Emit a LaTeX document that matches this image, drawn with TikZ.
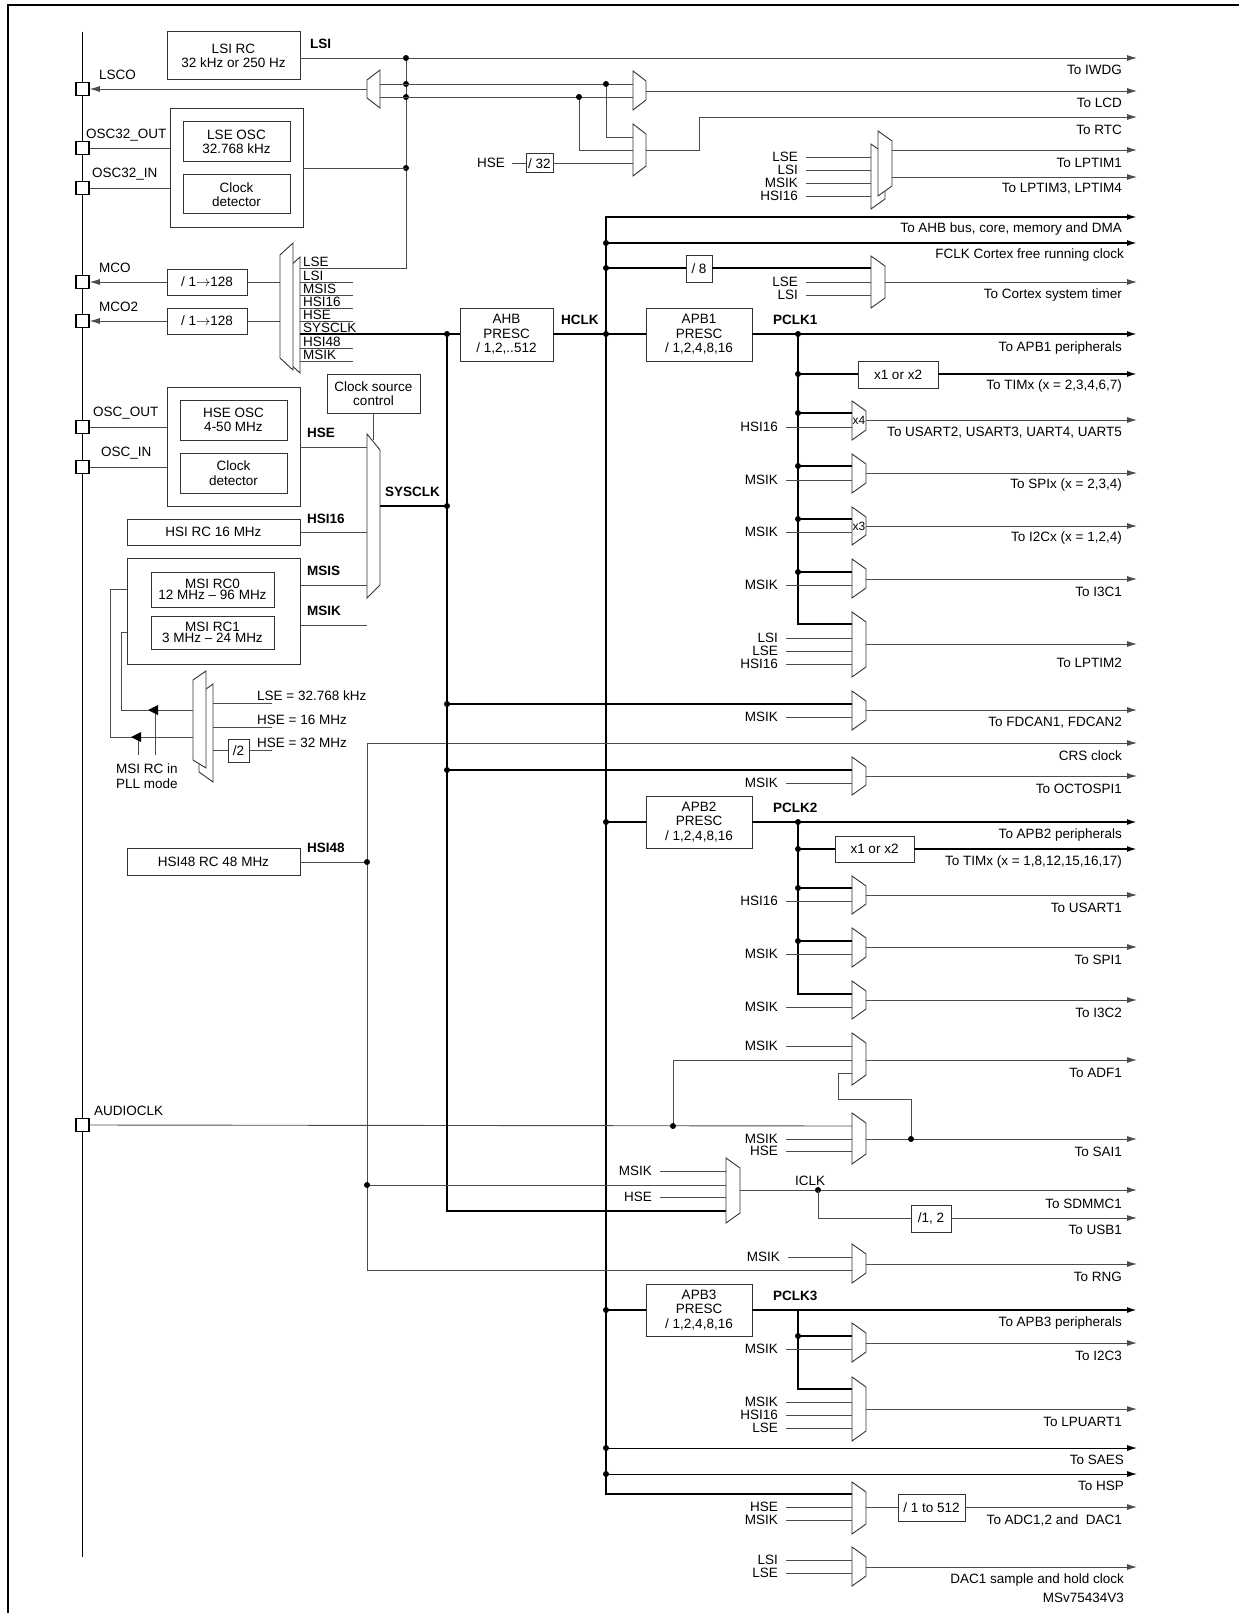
\documentclass[tikz,border=0pt]{standalone}
\usepackage{fontspec}
\setmainfont{Liberation Sans}
\usetikzlibrary{arrows.meta}
\newcommand\fs{\fontsize{13.5}{14.5}\selectfont}
\begin{document}
\begin{tikzpicture}[x=1pt,y=-1pt,
 thn/.style={line width=0.9pt,draw=black!70},
 thk/.style={line width=1.7pt,draw=black},
 arr/.style={-{Latex[length=10pt,width=6pt]}},
 box/.style={draw=black!80,line width=1pt,inner sep=0pt,font=\fs,align=center},
 lbl/.style={font=\fs,inner sep=0pt},
 blbl/.style={font=\fs\bfseries,inner sep=0pt},
 mux/.style={draw=black!80,line width=0.9pt,fill=white},
 dot/.style={circle,fill=black,inner sep=0pt,minimum size=6pt},
 pin/.style={draw=black,line width=1.5pt,fill=white,minimum size=13pt,inner sep=0pt}]
\newcommand\mybx[6]{\node[box,minimum width={(#4-#2)*1pt},minimum height={(#5-#3)*1pt}] (#1) at ({(#2+#4)/2},{(#3+#5)/2}) {#6};}
\newcommand\mymx[2]{\draw[mux] (852,#1) -- (866,{#1+10}) -- (866,{#2-10}) -- (852,#2) -- cycle;}
\newcommand\myin[4]{\draw[thn] (#1,#3) -- (#2,#3); \node[lbl,anchor=east] at ({#1-8},#3) {#4};}
\newcommand\myout[2]{\draw[thn,arr] (866,#1) -- (1137,#1); \node[lbl,anchor=east] at (1122,{#1+12.5}) {#2};}
\newcommand\mydot[2]{\node[dot] at (#1,#2) {};}
\useasboundingbox (0,0) rectangle (1239,1613);
% frame and bus
\draw[line width=1.5pt] (8,1613) -- (8,5) -- (1239,5);
\draw[line width=1.7pt] (82.5,32) -- (82.5,1557);
\node[pin] (lsco) at (82.5,89) {};
\node[pin] (o32o) at (82.5,148) {};
\node[pin] (o32i) at (82.5,188) {};
\node[pin] (mco) at (82.5,282) {};
\node[pin] (mco2) at (82.5,321) {};
\node[pin] (oo) at (82.5,427) {};
\node[pin] (oi) at (82.5,467) {};
\node[pin] (aud) at (82.5,1125) {};
\node[lbl,anchor=west] at (99,75) {LSCO};
\node[lbl,anchor=west] at (86,135) {OSC32\_OUT};
\node[lbl,anchor=west] at (92,174) {OSC32\_IN};
\node[lbl,anchor=west] at (99,268) {MCO};
\node[lbl,anchor=west] at (99,307) {MCO2};
\node[lbl,anchor=west] at (93,413) {OSC\_OUT};
\node[lbl,anchor=west] at (101,453) {OSC\_IN};
\node[lbl,anchor=west] at (94,1111) {AUDIOCLK};
% LSI
\mybx{lsi}{167}{32}{300}{80}{LSI RC\\32 kHz or 250 Hz}
\node[blbl,anchor=west] at (310,44) {LSI};
\draw[thn,arr] (300,58) -- (1137,58);
\node[lbl,anchor=east] at (1122,70) {To IWDG};
\draw[thn] (406,58) -- (406,268) -- (300,268);
\mydot{406}{58}\mydot{406}{84}\mydot{406}{97}\mydot{406}{168}
\draw[mux] (380,70) -- (380,108) -- (367,98) -- (367,80) -- cycle;
\draw[thn,arr] (367,89) -- (lsco.east);
\draw[thn] (380,84) -- (633,84);
\draw[thn] (380,97) -- (633,97);
\draw[mux] (633,71) -- (646,81) -- (646,100) -- (633,110) -- cycle;
\draw[thn,arr] (646,91) -- (1137,91);
\node[lbl,anchor=east] at (1122,103) {To LCD};
\draw[thn] (606,84) -- (606,137) -- (633,137); \mydot{606}{84}
\draw[thn] (579,97) -- (579,150) -- (633,150); \mydot{579}{97}
\node[lbl,anchor=east] at (505,163) {HSE};
\draw[thn] (512,163) -- (526,163);
\mybx{d32}{526}{154}{553}{173}{/ 32}
\draw[thn] (553,163) -- (633,163);
\draw[mux] (633,124) -- (646,134) -- (646,166) -- (633,176) -- cycle;
\draw[thn,arr] (646,150) -- (699,150) -- (699,117) -- (1137,117);
\node[lbl,anchor=east] at (1122,130) {To RTC};
% LSE
\draw[draw=black!80,line width=1pt] (170,109) rectangle (303,228);
\mybx{lseosc}{183}{122}{290}{162}{LSE OSC\\32.768 kHz}
\mybx{lsecd}{183}{175}{290}{214}{Clock\\detector}
\draw[thn] (303,168) -- (406,168);
\draw[thn] (o32o.east) -- (170,148);
\draw[thn] (o32i.east) -- (170,188);
% LPTIM1
\draw[mux] (871,144) -- (885,154) -- (885,199) -- (871,209) -- cycle;
\draw[mux] (878,131) -- (892,141) -- (892,186) -- (878,196) -- cycle;
\myin{806}{871}{157}{LSE}\myin{806}{871}{170}{LSI}\myin{806}{871}{183}{MSIK}\myin{806}{871}{196}{HSI16}
\draw[thn,arr] (892,150) -- (1137,150);
\node[lbl,anchor=east] at (1122,163) {To LPTIM1};
\draw[thn,arr] (892,177) -- (1137,177);
\node[lbl,anchor=east] at (1122,189) {To LPTIM3, LPTIM4};
% HCLK bus
\draw[thk,arr] (852,1494) -- (606,1494) -- (606,217) -- (1137,217);
\node[lbl,anchor=east] at (1122,229) {To AHB bus, core, memory and DMA};
\mydot{606}{243}\draw[thk,arr] (606,243) -- (1137,243);
\node[lbl,anchor=east] at (1124,255) {FCLK Cortex free running clock};
\mydot{606}{268}\draw[thk] (606,268) -- (686,268);
\mybx{d8}{686}{256}{712}{282}{/ 8}
\draw[thk] (712,268) -- (871,268);
\draw[mux] (871,256) -- (885,266) -- (885,298) -- (871,308) -- cycle;
\myin{806}{871}{282}{LSE}\myin{806}{871}{295}{LSI}
\draw[thn,arr] (885,282) -- (1137,282);
\node[lbl,anchor=east] at (1122,295) {To Cortex system timer};
% MCO
\mybx{mcod}{167}{269}{247}{295}{/ 1$\rightarrow$128}
\mybx{mco2d}{167}{308}{247}{334}{/ 1$\rightarrow$128}
\draw[thn] (280,282) -- (mcod.east); \draw[thn,arr] (mcod.west) -- (mco.east);
\draw[thn] (280,321) -- (mco2d.east); \draw[thn,arr] (mco2d.west) -- (mco2.east);
\draw[mux] (287,269) -- (300,257) -- (300,373) -- (287,361) -- cycle;
\draw[mux] (280,255) -- (293,243) -- (293,370) -- (280,358) -- cycle;
\foreach \y/\t in {282/LSI,295/MSIS,308/HSI16,321/HSE,348/HSI48,361/MSIK}{
 \draw[thn] (300,\y) -- (353,\y); \node[lbl,anchor=base west] at (303,{\y-1.5}) {\t};}
\node[lbl,anchor=base west] at (303,266.5) {LSE};
\node[lbl,anchor=base west] at (303,332.5) {SYSCLK};
\draw[thk] (300,334) -- (460,334);
\mydot{447}{334}
\mybx{ahb}{460}{308}{553}{361}{AHB\\PRESC\\/ 1,2,..512}
\node[blbl,anchor=west] at (561,320) {HCLK};
\draw[thk] (553,334) -- (646,334); \mydot{606}{334}
\mybx{apb1}{646}{308}{752}{361}{APB1\\PRESC\\/ 1,2,4,8,16}
\node[blbl,anchor=west] at (773,320) {PCLK1};
\draw[thk,arr] (752,334) -- (1137,334); \mydot{798}{334}
\node[lbl,anchor=east] at (1122,348) {To APB1 peripherals};
\draw[thk] (798,334) -- (798,624) -- (852,624);
\mydot{798}{374}\draw[thk] (798,374) -- (858,374);
\mybx{x1a}{858}{361}{938}{388}{x1 or x2}
\draw[thk,arr] (938,374) -- (1137,374);
\node[lbl,anchor=east] at (1122,386) {To TIMx (x = 2,3,4,6,7)};
% APB1 muxes
\mymx{401}{440}\mydot{798}{413}\draw[thk] (798,413) -- (852,413);
\myin{786}{852}{427}{HSI16}\myout{420}{To USART2, USART3, UART4, UART5}
\node[lbl,font=\fontsize{12}{12}\selectfont] at (859,420) {x4};
\mymx{454}{493}\mydot{798}{466}\draw[thk] (798,466) -- (852,466);
\myin{786}{852}{480}{MSIK}\myout{473}{To SPIx (x = 2,3,4)}
\mymx{507}{545}\mydot{798}{519}\draw[thk] (798,519) -- (852,519);
\myin{786}{852}{532}{MSIK}\myout{526}{To I2Cx (x = 1,2,4)}
\node[lbl,font=\fontsize{12}{12}\selectfont] at (859,526) {x3};
\mymx{559}{598}\mydot{798}{572}\draw[thk] (798,572) -- (852,572);
\myin{786}{852}{585}{MSIK}\myout{579}{To I3C1}
\mymx{612}{677}
\myin{786}{852}{638}{LSI}\myin{786}{852}{651}{LSE}\myin{786}{852}{664}{HSI16}
\draw[thn,arr] (866,644) -- (1137,644);
\node[lbl,anchor=east] at (1122,663) {To LPTIM2};
\mymx{691}{730}\mydot{447}{704}\draw[thk] (447,704) -- (852,704);
\myin{786}{852}{717}{MSIK}\myout{710}{To FDCAN1, FDCAN2}
\draw[thn] (367,743) -- (367,1270) -- (852,1270);
\draw[thn,arr] (367,743) -- (1137,743);
\node[lbl,anchor=east] at (1122,756) {CRS clock};
\mymx{757}{795}\mydot{447}{770}\draw[thk] (447,770) -- (852,770);
\myin{786}{852}{783}{MSIK}\myout{776}{To OCTOSPI1}
% APB2
\mydot{606}{822}\draw[thk] (606,822) -- (646,822);
\mybx{apb2}{646}{796}{752}{848}{APB2\\PRESC\\/ 1,2,4,8,16}
\node[blbl,anchor=west] at (773,808) {PCLK2};
\draw[thk,arr] (752,822) -- (1137,822); \mydot{798}{822}
\node[lbl,anchor=east] at (1122,835) {To APB2 peripherals};
\draw[thk] (798,822) -- (798,994) -- (852,994);
\mydot{798}{849}\draw[thk] (798,849) -- (835,849);
\mybx{x1b}{835}{836}{914}{862}{x1 or x2}
\draw[thk,arr] (914,849) -- (1137,849);
\node[lbl,anchor=east] at (1122,862) {To TIMx (x = 1,8,12,15,16,17)};
\mymx{876}{914}\mydot{798}{888}\draw[thk] (798,888) -- (852,888);
\myin{786}{852}{901}{HSI16}\myout{895}{To USART1}
\mymx{928}{967}\mydot{798}{941}\draw[thk] (798,941) -- (852,941);
\myin{786}{852}{954}{MSIK}\myout{947}{To SPI1}
\mymx{981}{1019}
\myin{786}{852}{1007}{MSIK}\myout{1000}{To I3C2}
% ADF1 / SAI1
\mymx{1033}{1085}
\myin{786}{852}{1046}{MSIK}
\draw[thn] (673,1126) -- (673,1060) -- (852,1060);
\draw[thn] (852,1073) -- (838,1073) -- (838,1099) -- (911,1099) -- (911,1139);
\myout{1060}{To ADF1}
\mymx{1113}{1164}
\draw[thn] (aud.east) -- (852,1126); \mydot{673}{1126}
\myin{786}{852}{1139}{MSIK}\myin{786}{852}{1151}{HSE}
\myout{1139}{To SAI1}\mydot{911}{1139}
% ICLK
\draw[thk] (447,334) -- (447,1211) -- (726,1211);
\myin{660}{726}{1171}{MSIK}
\draw[thn] (367,1185) -- (726,1185); \mydot{367}{1185}
\myin{660}{726}{1197}{HSE}
\draw[mux] (726,1158) -- (740,1168) -- (740,1213) -- (726,1223) -- cycle;
\draw[thn,arr] (740,1190) -- (1137,1190);
\node[lbl,anchor=south] at (810,1186) {ICLK};
\mydot{818}{1190}
\node[lbl,anchor=east] at (1122,1204) {To SDMMC1};
\draw[thn] (818,1190) -- (818,1218) -- (911,1218);
\mybx{d12}{911}{1205}{951}{1232}{/1, 2}
\draw[thn,arr] (951,1218) -- (1137,1218);
\node[lbl,anchor=east] at (1122,1230) {To USB1};
\mymx{1244}{1283}
\myin{788}{852}{1257}{MSIK}\myout{1264}{To RNG}
% APB3
\mydot{606}{1310}\draw[thk] (606,1310) -- (646,1310);
\mybx{apb3}{646}{1284}{752}{1336}{APB3\\PRESC\\/ 1,2,4,8,16}
\node[blbl,anchor=west] at (773,1296) {PCLK3};
\draw[thk,arr] (752,1310) -- (1137,1310);
\node[lbl,anchor=east] at (1122,1323) {To APB3 peripherals};
\draw[thk] (798,1310) -- (798,1389) -- (852,1389);
\mydot{798}{1336}\draw[thk] (798,1336) -- (852,1336);
\mymx{1323}{1362}
\myin{786}{852}{1349}{MSIK}\myout{1343}{To I2C3}
\mymx{1377}{1441}
\myin{786}{852}{1402}{MSIK}\myin{786}{852}{1415}{HSI16}\myin{786}{852}{1428}{LSE}
\draw[thn,arr] (866,1409) -- (1137,1409);
\node[lbl,anchor=east] at (1122,1422) {To LPUART1};
\mydot{606}{1448}\draw[thn,draw=black,arr] (606,1448) -- (1137,1448);
\node[lbl,anchor=east] at (1124,1460) {To SAES};
\mydot{606}{1474}\draw[thn,draw=black,arr] (606,1474) -- (1137,1474);
\node[lbl,anchor=east] at (1124,1486) {To HSP};
\mymx{1482}{1534}
\myin{786}{852}{1507}{HSE}\myin{786}{852}{1520}{MSIK}
\draw[thn] (866,1507) -- (898,1507);
\mybx{d512}{898}{1494}{965}{1521}{/ 1 to 512}
\draw[thn,arr] (965,1507) -- (1137,1507);
\node[lbl,anchor=east] at (1122,1520) {To ADC1,2 and \ DAC1};
\mymx{1547}{1586}
\myin{786}{852}{1560}{LSI}\myin{786}{852}{1573}{LSE}
\draw[thn,arr] (866,1567) -- (1137,1567);
\node[lbl,anchor=east] at (1124,1580) {DAC1 sample and hold clock};
\node[lbl,anchor=east] at (1124,1598) {MSv75434V3};
% HSE / SYSCLK
\mybx{csc}{327}{374}{420}{413}{Clock source\\control}
\draw[thn] (373,413) -- (373,440);
\draw[draw=black!80,line width=1pt] (167,387) rectangle (300,506);
\mybx{hseosc}{180}{400}{287}{440}{HSE OSC\\4-50 MHz}
\mybx{hsecd}{180}{453}{287}{493}{Clock\\detector}
\draw[thn] (oo.east) -- (167,427);
\draw[thn] (oi.east) -- (167,467);
\draw[mux] (367,434) -- (380,450) -- (380,585) -- (367,598) -- cycle;
\draw[thn] (300,447) -- (367,447); \node[blbl,anchor=west] at (307,433) {HSE};
\draw[thn] (300,532) -- (367,532); \node[blbl,anchor=west] at (307,519) {HSI16};
\draw[thn] (300,585) -- (367,585); \node[blbl,anchor=west] at (307,571) {MSIS};
\draw[thn] (300,625) -- (367,625); \node[blbl,anchor=west] at (307,611) {MSIK};
\draw[thk] (380,506) -- (447,506); \mydot{447}{506}
\node[blbl,anchor=west] at (385,492) {SYSCLK};
\mybx{hsi}{127}{519}{300}{545}{HSI RC 16 MHz}
\draw[draw=black!80,line width=1pt] (127,558) rectangle (300,664);
\mybx{msi0}{151}{572}{274}{607}{MSI RC0\\[-3pt]12 MHz -- 96 MHz}
\mybx{msi1}{151}{616}{274}{649}{MSI RC1\\[-3pt]3 MHz -- 24 MHz}
% PLL mode mux
\draw[mux] (199,694) -- (213,684) -- (213,782) -- (199,772) -- cycle;
\draw[mux] (193,680) -- (206,671) -- (206,768) -- (193,760) -- cycle;
\draw[thn] (213,703) -- (272,703); \node[lbl,anchor=base west] at (257,700) {LSE = 32.768 kHz};
\draw[thn] (213,727) -- (272,727); \node[lbl,anchor=base west] at (257,724) {HSE = 16 MHz};
\draw[thn] (213,750) -- (228,750); \draw[thn] (249,750) -- (272,750);
\mybx{d2}{228}{739}{249}{762}{/2}
\node[lbl,anchor=base west] at (257,747) {HSE = 32 MHz};
\draw[thn] (193,710) -- (121,710) -- (121,632) -- (127,632);
\draw[thn] (193,737) -- (110,737) -- (110,589) -- (127,589);
\draw[thn] (155,755) -- (155,710); \draw[thn] (138,755) -- (138,737);
\fill[black] (148,710) -- (158,705) -- (158,715) -- cycle;
\fill[black] (131,737) -- (141,732) -- (141,742) -- cycle;
\node[lbl,align=center] at (147,776) {MSI RC in\\PLL mode};
% HSI48
\mybx{hsi48}{127}{848}{300}{875}{HSI48 RC 48 MHz}
\draw[thn] (300,862) -- (367,862); \mydot{367}{862}
\node[blbl,anchor=west] at (307,848) {HSI48};
\end{tikzpicture}
\end{document}
